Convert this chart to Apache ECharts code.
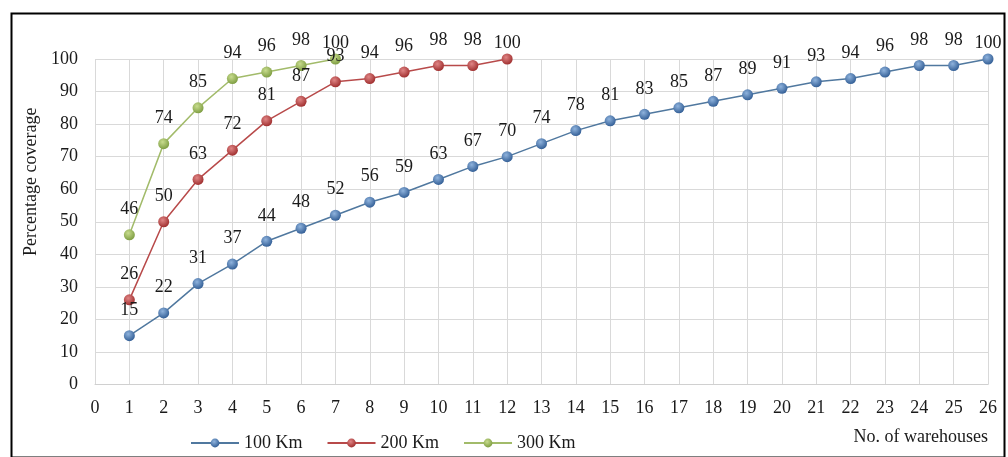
<!DOCTYPE html>
<html>
<head>
<meta charset="utf-8">
<script src="https://cdn.jsdelivr.net/npm/echarts@6/dist/echarts.min.js"></script>
<style>
  html, body { margin: 0; padding: 0; background: #fff; }
  #chart { width: 1008px; height: 457px; }
</style>
</head>
<body>
<div id="chart"></div>
<script>
// Number of warehouses (x) and percentage coverage per service radius
const warehouses100 = [1,2,3,4,5,6,7,8,9,10,11,12,13,14,15,16,17,18,19,20,21,22,23,24,25,26];
const coverage100 = [15,22,31,37,44,48,52,56,59,63,67,70,74,78,81,83,85,87,89,91,93,94,96,98,98,100];
const warehouses200 = [1,2,3,4,5,6,7,8,9,10,11,12];
const coverage200 = [26,50,63,72,81,87,93,94,96,98,98,100];
const warehouses300 = [1,2,3,4,5,6,7];
const coverage300 = [46,74,85,94,96,98,100];
const seriesNames = ['100 Km', '200 Km', '300 Km'];
const yTicks = [0,10,20,30,40,50,60,70,80,90,100];

const FONT = '"Liberation Serif", "Times New Roman", serif';

function sphere(light, dark) {
  return {
    type: 'radial', x: 0.4, y: 0.35, r: 0.7,
    colorStops: [{ offset: 0, color: light }, { offset: 1, color: dark }]
  };
}

function build(xs, ys, name, lineColor, light, dark) {
  return {
    name: name,
    type: 'line',
    data: xs.map((x, i) => {
      const item = { value: [x, ys[i]] };
      // labels at the very top sit closer to their marker
      if (ys[i] >= 100) item.label = { distance: 1 };
      return item;
    }),
    symbol: 'circle',
    symbolSize: 11,
    showAllSymbol: true,
    lineStyle: { color: lineColor, width: 1.5 },
    itemStyle: { color: sphere(light, dark), borderWidth: 0 },
    label: {
      show: true, position: 'top', distance: 11,
      fontFamily: FONT, fontSize: 18, color: '#1a1a1a', lineHeight: 18
    },
    emphasis: { disabled: true },
    animation: false,
    z: 3
  };
}

const chart = echarts.init(document.getElementById('chart'));
chart.setOption({
  backgroundColor: '#fff',
  animation: false,
  grid: { left: 95, right: 20, top: 59, bottom: 72.5, containLabel: false },
  xAxis: {
    type: 'value', min: 0, max: 26, interval: 1,
    axisLine: { show: true, lineStyle: { color: '#d0d0d0' } },
    axisTick: { show: false },
    splitLine: { show: true, lineStyle: { color: '#d9d9d9', width: 1 } },
    axisLabel: { fontFamily: FONT, fontSize: 18, color: '#1a1a1a', margin: 15 }
  },
  yAxis: {
    type: 'value', min: yTicks[0], max: yTicks[yTicks.length - 1], interval: 10,
    name: 'Percentage coverage',
    nameLocation: 'middle', nameGap: 53,
    nameTextStyle: { fontFamily: FONT, fontSize: 18, color: '#1a1a1a', padding: [0, 0, 0, 80] },
    axisLine: { show: false },
    axisTick: { show: false },
    splitLine: { show: true, lineStyle: { color: '#d9d9d9', width: 1 } },
    axisLabel: { fontFamily: FONT, fontSize: 18, color: '#1a1a1a', margin: 17 }
  },
  legend: {
    data: seriesNames,
    left: 185, top: 429,
    itemWidth: 48, itemHeight: 11, itemGap: 24,
    textStyle: { fontFamily: FONT, fontSize: 18, color: '#1a1a1a' },
    selectedMode: false
  },
  graphic: [
    {
      type: 'rect', left: 9, top: 11, silent: true, z: 0,
      shape: { width: 993, height: 444 },
      style: { fill: 'none', stroke: '#000', lineWidth: 2 }
    },
    {
      type: 'text', right: 20, top: 428, silent: true,
      style: { text: 'No. of warehouses', font: '18px ' + FONT, fill: '#1a1a1a' }
    }
  ],
  series: [
    build(warehouses100, coverage100, seriesNames[0], '#50789f', '#8fb3dd', '#2e5a92'),
    build(warehouses200, coverage200, seriesNames[1], '#b84a4a', '#e08585', '#9c2a2a'),
    build(warehouses300, coverage300, seriesNames[2], '#a2bb6a', '#c8dc8e', '#7a9a3e')
  ]
});
</script>
</body>
</html>
